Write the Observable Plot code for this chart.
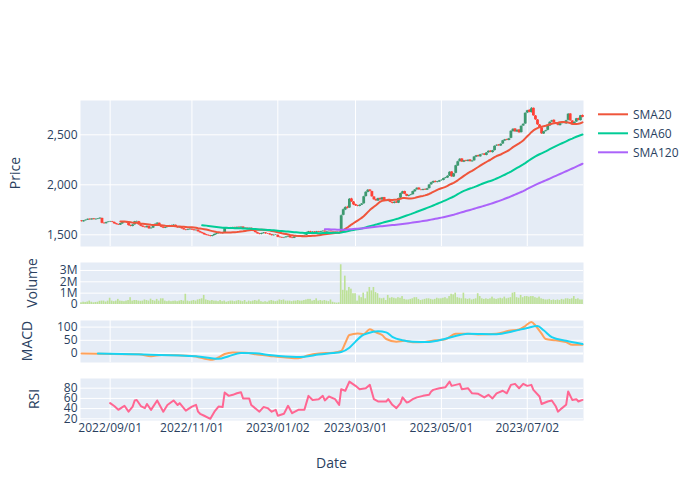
<!DOCTYPE html>
<html>
<head>
<meta charset="utf-8">
<script src="https://cdn.jsdelivr.net/npm/d3@7"></script>
<script src="https://cdn.jsdelivr.net/npm/@observablehq/plot@0.6"></script>
<style>
  html, body { margin: 0; padding: 0; background: #fff; }
  #fig { position: relative; width: 700px; height: 500px; font-family: "Open Sans", sans-serif; color: #2a3f5f; overflow: hidden; background: #fff; }
  .ytitle { position: absolute; font-size: 14px; white-space: nowrap; transform: translate(-50%, -50%) rotate(-90deg); line-height: 1; }
  .xtitle { position: absolute; font-size: 14px; white-space: nowrap; transform: translate(-50%, -50%); line-height: 1; }
</style>
</head>
<body>
<div id="fig"></div>
<script>
// ---------------- DATA ----------------
const firstDay = "2022-08-12";
const lastDay = "2023-08-10";
const holidays = ["2022-09-19","2022-09-23","2022-10-10","2022-11-03","2022-11-23","2023-01-02","2023-01-03","2023-01-09","2023-02-23","2023-03-21","2023-05-03","2023-05-04","2023-05-05","2023-07-17"];

const tickLabels = ["2022/09/01","2022/11/01","2023/01/02","2023/03/01","2023/05/01","2023/07/02"];

const open = [
1638,1630,1641,1646,1656,1649,1659,1650,1655,1659,1664,1616,1611,1624,
1627,1631,1624,1611,1603,1597,1610,1623,1629,1619,1593,1584,1600,1629,1631,1601,1586,1577,1571,1583,
1561,1567,1589,1606,1615,1589,1576,1565,1573,1586,1591,1593,1595,1579,1569,1575,1561,1549,1546,1551,
1555,1549,1541,1546,1531,1521,1513,1501,1495,1491,1483,1493,1503,1511,1519,1513,1522,1561,1566,1557,
1569,1573,1567,1575,1569,1577,1561,1566,1559,1565,1547,1536,1521,1511,1504,1513,1519,1509,1509,1501,1491,1497,
1495,1476,1473,1467,1471,1477,1483,1471,1465,1479,1481,1489,1484,1491,1496,1521,1531,1525,1529,
1524,1531,1525,1531,1537,1527,1531,1536,1531,1527,1525,1519,1520,1695,1748,1774,1768,1858,1828,
1802,1791,1784,1796,1810,1882,1924,1948,1932,1878,1852,1838,1864,1848,1872,1836,1834,1847,1823,1814,1828,1816,
1866,1910,1932,1903,1884,1894,1901,1930,1950,1967,1948,1943,1954,1946,1962,2000,2018,2034,2023,2028,
2042,2044,2064,2068,2087,2128,2078,2115,2188,2232,2258,2226,2242,2233,2248,2230,2240,2276,2292,2280,
2302,2308,2294,2320,2337,2322,2342,2388,2398,2388,2408,2438,2452,2443,2465,2532,2558,2528,2548,2522,2588,2608,
2718,2745,2722,2765,2688,2648,2598,2568,2508,2532,2545,2588,2628,2645,2618,2618,2592,2612,2622,2610,
2645,2708,2638,2598,2628,2662,2642,2692];

const high = [
1642,1643,1648,1658,1659,1661,1662,1658,1663,1670,1666,1620,1626,1632,
1635,1634,1627,1614,1606,1615,1626,1632,1632,1622,1597,1601,1634,1637,1634,1604,1590,1580,1588,1586,
1570,1594,1609,1620,1618,1592,1579,1576,1588,1594,1596,1600,1598,1582,1578,1578,1564,1553,1556,1560,
1559,1552,1549,1549,1535,1524,1516,1504,1498,1494,1495,1507,1514,1522,1523,1524,1566,1570,1569,1574,
1576,1577,1578,1579,1580,1580,1569,1569,1568,1568,1551,1539,1525,1514,1516,1522,1522,1513,1512,1504,1499,1502,
1498,1480,1476,1474,1481,1486,1486,1474,1481,1485,1492,1492,1493,1497,1526,1534,1535,1531,1533,
1534,1534,1535,1539,1540,1535,1538,1539,1534,1530,1528,1522,1698,1758,1780,1785,1862,1865,1833,
1806,1795,1799,1812,1885,1930,1952,1950,1936,1882,1856,1866,1868,1874,1874,1842,1850,1850,1827,1830,1831,1866,
1916,1935,1936,1907,1896,1904,1936,1952,1970,1970,1951,1956,1958,1964,2002,2025,2037,2038,2034,2044,
2049,2066,2074,2090,2130,2132,2114,2195,2236,2262,2262,2244,2246,2249,2252,2242,2282,2294,2296,2304,
2309,2311,2322,2339,2340,2344,2389,2399,2402,2409,2444,2454,2456,2464,2540,2560,2562,2549,2552,2589,2610,2720,
2745,2750,2772,2768,2693,2652,2603,2572,2534,2545,2594,2630,2645,2650,2622,2622,2614,2625,2627,2645,
2712,2712,2642,2629,2664,2666,2694,2698];

const low = [
1628,1627,1637,1643,1646,1646,1649,1647,1652,1655,1610,1605,1608,1620,
1622,1622,1606,1598,1593,1593,1606,1619,1616,1588,1580,1580,1596,1625,1596,1581,1572,1567,1567,1555,
1556,1564,1585,1602,1586,1571,1562,1562,1570,1583,1587,1589,1577,1566,1566,1557,1547,1540,1542,1547,
1544,1538,1538,1527,1516,1508,1496,1490,1485,1479,1480,1490,1500,1508,1510,1510,1519,1557,1554,1553,
1565,1564,1563,1566,1566,1558,1558,1556,1555,1544,1531,1518,1506,1500,1500,1509,1506,1504,1496,1488,1487,1493,
1471,1468,1463,1462,1468,1474,1466,1461,1462,1476,1478,1481,1481,1488,1493,1518,1522,1522,1521,
1520,1523,1522,1528,1525,1524,1528,1527,1525,1520,1515,1508,1516,1690,1742,1758,1764,1824,1792,
1784,1780,1780,1792,1806,1878,1920,1930,1876,1846,1835,1834,1846,1845,1834,1830,1830,1821,1810,1810,1814,1812,
1862,1906,1901,1881,1880,1890,1898,1926,1946,1946,1940,1940,1944,1943,1958,1996,2014,2020,2019,2024,
2036,2040,2060,2064,2083,2076,2074,2110,2184,2228,2224,2222,2231,2229,2228,2226,2236,2272,2278,2276,
2298,2292,2290,2316,2321,2318,2338,2384,2386,2384,2404,2434,2441,2440,2461,2528,2526,2524,2516,2518,2584,2604,
2712,2720,2718,2685,2645,2595,2565,2505,2504,2528,2540,2584,2624,2616,2610,2590,2588,2608,2610,2605,
2640,2635,2595,2594,2624,2640,2638,2670];

const close = [
1632,1640,1646,1655,1650,1658,1652,1656,1660,1666,1615,1612,1622,1628,
1630,1625,1610,1602,1598,1612,1622,1628,1620,1592,1585,1598,1630,1632,1600,1585,1576,1572,1584,1560,
1566,1590,1605,1616,1590,1575,1566,1572,1585,1590,1592,1596,1580,1570,1574,1560,1550,1545,1552,1556,
1548,1542,1545,1530,1520,1512,1500,1494,1490,1484,1492,1504,1510,1518,1514,1520,1562,1565,1558,1570,
1572,1568,1574,1570,1576,1562,1565,1560,1564,1548,1535,1522,1510,1505,1512,1518,1510,1508,1500,1492,1496,1498,
1475,1472,1468,1470,1478,1482,1470,1466,1478,1482,1488,1485,1490,1494,1522,1530,1526,1528,1525,
1530,1526,1532,1536,1528,1532,1535,1530,1528,1524,1518,1512,1690,1750,1772,1765,1855,1830,1800,
1790,1785,1795,1808,1880,1925,1945,1935,1880,1850,1840,1862,1850,1870,1838,1835,1845,1825,1815,1826,1818,1862,
1912,1930,1905,1885,1892,1900,1932,1948,1965,1950,1945,1952,1948,1960,1998,2020,2032,2025,2030,2040,
2045,2062,2070,2085,2125,2080,2110,2190,2230,2255,2228,2240,2235,2245,2232,2238,2278,2290,2282,2300,
2305,2296,2318,2335,2325,2340,2385,2395,2390,2405,2440,2450,2445,2460,2535,2555,2530,2545,2520,2585,2605,2715,
2740,2725,2760,2690,2650,2600,2570,2510,2530,2540,2590,2625,2640,2620,2615,2595,2610,2620,2615,2640,
2705,2640,2600,2625,2660,2645,2690,2675];

// volume in millions of shares
const volumeM = [
0.15,0.2,0.18,0.22,0.3,0.2,0.15,0.18,0.2,0.28,0.3,0.3,0.22,0.3,
0.55,0.3,0.25,0.3,0.45,0.3,0.28,0.25,0.3,0.35,0.6,0.3,0.35,0.35,0.3,0.28,0.3,0.4,0.35,0.3,
0.47,0.35,0.3,0.45,0.3,0.5,0.5,0.3,0.25,0.3,0.25,0.28,0.3,0.25,0.3,0.35,0.3,0.9,0.3,0.25,
0.3,0.35,0.3,0.4,0.45,0.5,0.8,0.4,0.35,0.3,0.35,0.3,0.3,0.25,0.35,0.25,0.3,0.2,0.25,0.3,
0.3,0.25,0.3,0.35,0.3,0.25,0.35,0.2,0.3,0.25,0.3,0.35,0.3,0.4,0.25,0.2,0.25,0.2,0.3,0.35,0.3,0.25,
0.3,0.4,0.35,0.4,0.3,0.3,0.3,0.25,0.3,0.3,0.35,0.3,0.3,0.35,0.4,0.45,0.45,0.3,0.35,
0.5,0.3,0.35,0.3,0.35,0.3,0.25,0.4,0.2,0.15,0.12,0.15,3.5,1.25,2.5,1.2,1.5,1.35,0.95,
0.95,0.3,0.75,0.6,1.0,0.5,1.1,1.5,1.2,1.5,1.05,0.95,0.55,0.5,0.55,0.35,0.8,0.55,0.6,0.55,0.5,0.6,
0.55,0.7,0.45,0.4,0.4,0.45,0.5,0.6,0.6,0.45,0.35,0.4,0.45,0.5,0.5,0.45,0.4,0.45,0.55,0.5,
0.5,0.55,0.6,0.5,0.7,0.9,0.85,1.0,0.6,0.55,0.5,1.0,0.5,0.45,0.5,0.4,0.45,0.5,0.95,0.7,
0.5,0.45,0.5,0.45,0.5,0.65,0.5,0.45,0.5,0.55,0.5,0.65,0.5,0.55,0.6,1.0,1.05,0.6,0.55,0.8,0.6,0.7,
0.7,0.65,0.7,0.7,0.6,0.55,0.65,0.5,0.45,0.4,0.4,0.45,0.35,0.4,0.35,0.4,0.35,0.45,0.4,0.5,
0.5,0.45,0.5,0.7,0.45,0.5,0.4,0.4];

const macdDates = ["2022-08-12","2022-08-24","2022-09-22","2022-10-03","2022-10-11","2022-10-21","2022-11-01","2022-11-16","2022-11-21","2022-11-25","2022-12-01","2022-12-09","2022-12-20","2022-12-27","2023-01-11","2023-01-19","2023-01-26","2023-02-02","2023-02-13","2023-02-17","2023-02-21","2023-02-24","2023-03-02","2023-03-07","2023-03-10","2023-03-15","2023-03-20","2023-03-23","2023-03-30","2023-04-05","2023-04-11","2023-04-19","2023-04-26","2023-05-08","2023-05-15","2023-05-22","2023-05-30","2023-06-12","2023-06-20","2023-06-27","2023-06-30","2023-07-05","2023-07-07","2023-07-12","2023-07-14","2023-07-24","2023-07-31","2023-08-03","2023-08-10"];
const macdValues = [0,-1,-3,-10,-6,-7,-9,-24,-15,-2,4,3,-5,-9,-15,-18,-6,0,3,10,40,70,76,73,92,80,70,55,45,48,43,44,50,54,75,75,72,75,86,91,104,119,106,75,55,50,43,33,33];

const signalDates = ["2022-08-24","2022-09-28","2022-11-04","2022-11-21","2022-11-29","2022-12-07","2022-12-16","2022-12-28","2023-01-18","2023-01-24","2023-02-02","2023-02-13","2023-02-17","2023-02-24","2023-03-01","2023-03-06","2023-03-09","2023-03-16","2023-03-23","2023-03-28","2023-04-04","2023-04-11","2023-04-21","2023-05-08","2023-05-17","2023-05-23","2023-06-12","2023-06-22","2023-07-03","2023-07-10","2023-07-13","2023-07-20","2023-07-31","2023-08-10"];
const signalValues = [0,-4,-10,-20,-10,2,1,-7,-13,-12,-4,2,6,22,45,67,77,84,80,63,50,45,44,56,70,75,73,84,97,104,88,62,48,36];

const rsiDates = ["2022-09-01","2022-09-05","2022-09-07","2022-09-09","2022-09-12","2022-09-14","2022-09-16","2022-09-20","2022-09-21","2022-09-26","2022-09-28","2022-09-29","2022-10-03","2022-10-06","2022-10-12","2022-10-14","2022-10-19","2022-10-21","2022-10-24","2022-10-26","2022-10-27","2022-11-01","2022-11-04","2022-11-07","2022-11-08","2022-11-10","2022-11-15","2022-11-17","2022-11-21","2022-11-24","2022-11-25","2022-11-29","2022-12-01","2022-12-05","2022-12-07","2022-12-08","2022-12-13","2022-12-14","2022-12-20","2022-12-22","2022-12-26","2022-12-28","2022-12-30","2023-01-04","2023-01-10","2023-01-12","2023-01-16","2023-01-19","2023-01-24","2023-01-26","2023-01-30","2023-02-02","2023-02-06","2023-02-07","2023-02-09","2023-02-14","2023-02-16","2023-02-17","2023-02-21","2023-02-24","2023-03-01","2023-03-03","2023-03-08","2023-03-10","2023-03-14","2023-03-16","2023-03-23","2023-03-24","2023-03-28","2023-03-30","2023-04-03","2023-04-04","2023-04-06","2023-04-07","2023-04-11","2023-04-13","2023-04-18","2023-04-21","2023-04-24","2023-04-25","2023-04-28","2023-05-08","2023-05-10","2023-05-11","2023-05-17","2023-05-18","2023-05-23","2023-05-25","2023-05-30","2023-06-02","2023-06-06","2023-06-08","2023-06-12","2023-06-15","2023-06-19","2023-06-21","2023-06-23","2023-06-27","2023-06-29","2023-07-03","2023-07-05","2023-07-06","2023-07-11","2023-07-12","2023-07-18","2023-07-20","2023-07-24","2023-07-25","2023-07-27","2023-07-31","2023-08-01","2023-08-03","2023-08-07","2023-08-08","2023-08-10"];
const rsiValues = [50.7,45,37.6,43,45.5,34,44,56,57,45,41,49,37.6,56,34,47,56,47,50.7,41,36,44,47.4,34,29.8,26,20,34,44,43,71.5,65,67,70,72,60,60,47,34,43,41,34,37.6,26,30,45.5,31,37.6,37.6,65,57,58.5,65,56,63.7,58.5,47.4,78,75,93,84.6,78,80,86.5,58.5,54,54,58.5,47.4,41,50.7,62,52,53,58.5,62,65,67,73.5,76.7,80,82,93,84.6,88.5,78,80,70,69,62,67,60,70,75,70,86.5,88.5,80,88.5,84.6,86.5,76.7,63.7,49,54,56,44,34,41,47.4,73.5,57,58.5,54,57];

const smaWindows = [20, 60, 120];
const smaNames = ["SMA20", "SMA60", "SMA120"];
const smaColors = ["#EF553B", "#00CC96", "#AB63FA"];

// ---------------- BUILD ----------------
const fmtDay = d3.utcFormat("%Y-%m-%d");
const dates = d3.utcDays(new Date(firstDay), d3.utcDay.offset(new Date(lastDay), 1))
  .filter(d => d.getUTCDay() % 6 !== 0 && !holidays.includes(fmtDay(d)));
const n = Math.min(dates.length, close.length);
const rows = d3.range(n).map(i => ({i, date: dates[i], open: open[i], high: high[i], low: low[i], close: close[i], volume: volumeM[i]}));
const idxOf = s => Math.min(n - 1, d3.bisectLeft(dates, new Date(s)));
const tickIdx = tickLabels.map(s => idxOf(s.replace(/\//g, "-")));
const macdRows = macdDates.map((d, k) => ({i: idxOf(d), v: macdValues[k]}));
const signalRows = signalDates.map((d, k) => ({i: idxOf(d), v: signalValues[k]}));
const rsiRows = rsiDates.map((d, k) => ({i: idxOf(d), v: rsiValues[k]}));

const UP = "#3D9970", DOWN = "#FF4136", BG = "#E5ECF6", TXT = "#2a3f5f";
const candleColor = d => d.close >= d.open ? UP : DOWN;
const xDomain = [-0.5, n - 0.5];
const fig = document.getElementById("fig");
const baseStyle = {fontFamily: '"Open Sans", sans-serif', fontSize: "12px", color: TXT, background: "transparent", overflow: "visible"};

function addPlot(top, opts) {
  const el = Plot.plot({width: 700, marginLeft: 80, marginRight: 117, style: baseStyle, ...opts});
  el.style.position = "absolute";
  el.style.left = "0px";
  el.style.top = top + "px";
  fig.appendChild(el);
}
const yAxis = (domain, ticks, tickFormat) => ({domain, ticks, tickFormat, tickSize: 0, tickPadding: 3, label: null});

// Price panel
const priceTicks = [1500, 2000, 2500];
addPlot(0, {
  height: 250, marginTop: 100, marginBottom: 4,
  x: {domain: xDomain, axis: null},
  y: yAxis([1383, 2843], priceTicks, d3.format(",")),
  marks: [
    Plot.frame({fill: BG, stroke: "none"}),
    Plot.ruleX(tickIdx, {stroke: "white", strokeWidth: 1}),
    Plot.ruleY(priceTicks, {stroke: "white", strokeWidth: 1}),
    Plot.ruleX(rows, {x: "i", y1: "low", y2: "high", stroke: candleColor, strokeWidth: 1}),
    Plot.ruleX(rows, {x: "i", y1: "open", y2: "close", stroke: candleColor, strokeWidth: 2.8}),
    ...smaWindows.map((k, j) => Plot.lineY(rows, Plot.windowY({k, anchor: "end", reduce: "mean", strict: true},
      {x: "i", y: "close", stroke: smaColors[j], strokeWidth: 2})))
  ]
});

// Volume panel
const volTicks = [0, 1, 2, 3];
addPlot(250, {
  height: 58, marginTop: 12, marginBottom: 4,
  x: {domain: xDomain, axis: null},
  y: yAxis([0, 3.7], volTicks, d => d === 0 ? "0" : d + "M"),
  marks: [
    Plot.frame({fill: BG, stroke: "none"}),
    Plot.ruleY(volTicks, {stroke: "white", strokeWidth: 1}),
    Plot.rectY(rows, {x1: d => d.i - 0.4, x2: d => d.i + 0.4, y: "volume", fill: "#bde196"})
  ]
});

// MACD panel
const macdTicks = [0, 50, 100];
addPlot(308, {
  height: 58, marginTop: 12, marginBottom: 4,
  x: {domain: xDomain, axis: null},
  y: yAxis([-34, 125], macdTicks, d3.format("d")),
  marks: [
    Plot.frame({fill: BG, stroke: "none"}),
    Plot.ruleX(tickIdx, {stroke: "white", strokeWidth: 1}),
    Plot.ruleY(macdTicks, {stroke: "white", strokeWidth: d => d === 0 ? 2 : 1}),
    Plot.line(macdRows, {x: "i", y: "v", stroke: "#FFA15A", strokeWidth: 2, curve: "monotone-x"}),
    Plot.line(signalRows, {x: "i", y: "v", stroke: "#19D3F3", strokeWidth: 2, curve: "monotone-x"})
  ]
});

// RSI panel with the shared date axis
const rsiTicks = [20, 40, 60, 80];
addPlot(366, {
  height: 84, marginTop: 12, marginBottom: 30,
  x: {domain: xDomain, ticks: tickIdx, tickFormat: d => tickLabels[tickIdx.indexOf(d)], tickSize: 0, tickPadding: 3, label: null},
  y: yAxis([16.7, 99], rsiTicks, d3.format("d")),
  marks: [
    Plot.frame({fill: BG, stroke: "none"}),
    Plot.ruleX(tickIdx, {stroke: "white", strokeWidth: 1}),
    Plot.ruleY(rsiTicks, {stroke: "white", strokeWidth: 1}),
    Plot.line(rsiRows, {x: "i", y: "v", stroke: "#FF6692", strokeWidth: 2})
  ]
});

// Axis titles
function addText(cls, text, x, y) {
  const d = document.createElement("div");
  d.className = cls; d.textContent = text;
  d.style.left = x + "px"; d.style.top = y + "px";
  fig.appendChild(d);
}
addText("ytitle", "Price", 14.5, 173);
addText("ytitle", "Volume", 32, 283);
addText("ytitle", "MACD", 27, 341);
addText("ytitle", "RSI", 33.5, 399);
addText("xtitle", "Date", 331.5, 462.5);

// Legend
const leg = d3.select(fig).append("svg")
  .attr("width", 110).attr("height", 70)
  .style("position", "absolute").style("left", "590px").style("top", "100px")
  .style("font-family", '"Open Sans", sans-serif').style("font-size", "12px");
smaNames.forEach((name, j) => {
  const y = 14.3 + j * 19;
  leg.append("line").attr("x1", 8).attr("x2", 38).attr("y1", y).attr("y2", y)
    .attr("stroke", smaColors[j]).attr("stroke-width", 2);
  leg.append("text").attr("x", 43).attr("y", y).attr("dy", "0.35em").attr("fill", TXT).text(name);
});
</script>
</body>
</html>
